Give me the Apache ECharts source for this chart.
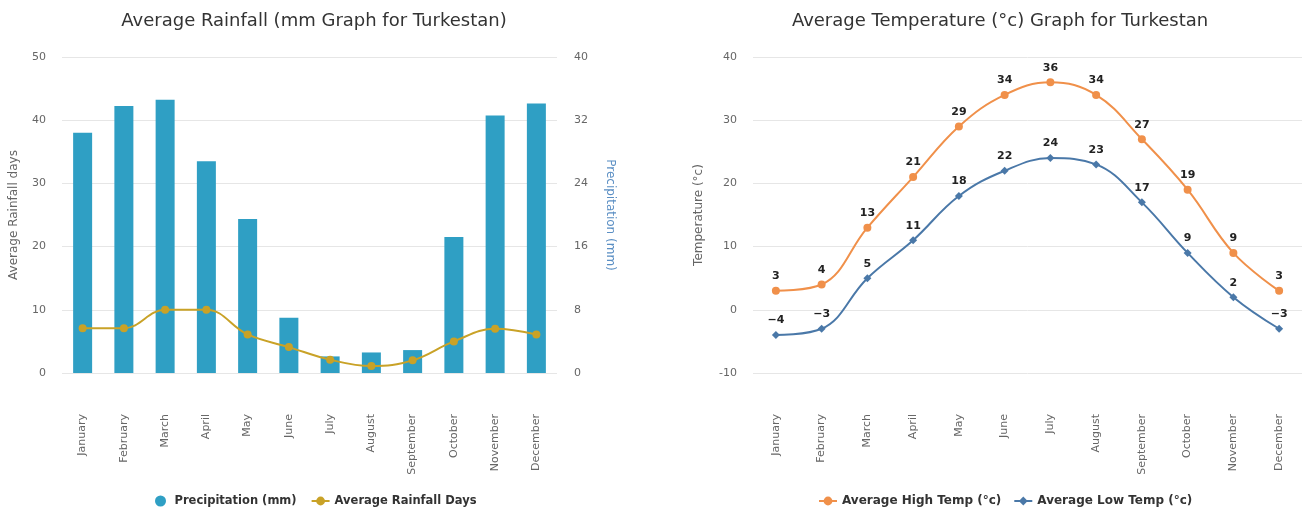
<!DOCTYPE html>
<html><head><meta charset="utf-8">
<script src="https://cdn.jsdelivr.net/npm/echarts@6/dist/echarts.min.js"></script>
<style>html,body{margin:0;padding:0;background:#fff}#c{width:1304px;height:508px}</style>
</head><body><div id="c"></div>
<script>
const months = ["January","February","March","April","May","June","July","August","September","October","November","December"];
const precipitation = [30.4, 33.8, 34.6, 26.8, 19.5, 7.0, 2.1, 2.6, 2.9, 17.2, 32.6, 34.1];
const rainfallDays = [7.1, 7.1, 10, 10, 6.1, 4.1, 2.1, 1.1, 2.0, 5.0, 7.0, 6.1];
const highTemp = [3, 4, 13, 21, 29, 34, 36, 34, 27, 19, 9, 3];
const lowTemp = [-4, -3, 5, 11, 18, 22, 24, 23, 17, 9, 2, -3];

const FONT = "DejaVu Sans";
const c = echarts.init(document.getElementById('c'), null, {renderer:'canvas'});
const axLabel = {color:'#666', fontSize:11, fontFamily:FONT};
const xCommon = {
  type:'category', data:months, boundaryGap:true,
  axisLine:{show:false}, axisTick:{show:false},
  axisLabel:{color:'#666', fontSize:11, fontFamily:FONT, rotate:90, margin:41, interval:0}
};
c.setOption({
  animation:false,
  textStyle:{fontFamily:FONT},
  title:[
    {text:'Average Rainfall (mm Graph for Turkestan)', left:309, top:7, textAlign:'center',
     textStyle:{fontSize:18, fontWeight:'normal', color:'#333', fontFamily:FONT}},
    {text:'Average Temperature (°c) Graph for Turkestan', left:995, top:7, textAlign:'center',
     textStyle:{fontSize:18, fontWeight:'normal', color:'#333', fontFamily:FONT}}
  ],
  legend:[
    {left:150, top:490, itemGap:14, itemWidth:18, itemHeight:11,
     textStyle:{fontSize:11.5, fontWeight:'bold', color:'#333', fontFamily:FONT},
     data:[{name:'Precipitation (mm)', icon:'circle'}, {name:'Average Rainfall Days'}]},
    {left:813, top:490, itemGap:12, itemWidth:18, itemHeight:11,
     textStyle:{fontSize:12, fontWeight:'bold', color:'#333', fontFamily:FONT},
     data:[{name:'Average High Temp (°c)'}, {name:'Average Low Temp (°c)'}]}
  ],
  grid:[
    {left:62, right:747, top:57, bottom:135},
    {left:753, right:2, top:57, bottom:135}
  ],
  xAxis:[
    Object.assign({gridIndex:0}, xCommon),
    Object.assign({gridIndex:1}, xCommon)
  ],
  yAxis:[
    {gridIndex:0, type:'value', min:0, max:50, interval:10,
     name:'Average Rainfall days', nameLocation:'middle', nameGap:42, nameRotate:90,
     nameTextStyle:{color:'#666', fontSize:12, fontFamily:FONT},
     axisLabel:Object.assign({margin:16}, axLabel),
     splitLine:{lineStyle:{color:'#e6e6e6'}}, axisLine:{show:false}, axisTick:{show:false}},
    {gridIndex:0, type:'value', min:0, max:40, interval:8, position:'right',
     name:'Precipitation (mm)', nameLocation:'middle', nameGap:47, nameRotate:-90,
     nameTextStyle:{color:'#5b8fc4', fontSize:12, fontFamily:FONT},
     axisLabel:Object.assign({margin:17}, axLabel),
     splitLine:{show:false}, axisLine:{show:false}, axisTick:{show:false}},
    {gridIndex:1, type:'value', min:-10, max:40, interval:10,
     name:'Temperature (°c)', nameLocation:'middle', nameGap:48, nameRotate:90,
     nameTextStyle:{color:'#666', fontSize:12, fontFamily:FONT},
     axisLabel:Object.assign({margin:16}, axLabel),
     splitLine:{lineStyle:{color:'#e6e6e6'}}, axisLine:{show:false}, axisTick:{show:false}}
  ],
  series:[
    {name:'Precipitation (mm)', type:'bar', xAxisIndex:0, yAxisIndex:1, data:precipitation,
     barWidth:19, itemStyle:{color:'#2f9fc4'}, z:2},
    {name:'Average Rainfall Days', type:'line', xAxisIndex:0, yAxisIndex:0, data:rainfallDays,
     smooth:0.4, symbol:'circle', symbolSize:8,
     lineStyle:{color:'#c9a227', width:2}, itemStyle:{color:'#c9a227'}, z:3},
    {name:'Average High Temp (°c)', type:'line', xAxisIndex:1, yAxisIndex:2, data:highTemp,
     smooth:0.4, symbol:'circle', symbolSize:8,
     lineStyle:{color:'#f0904a', width:2}, itemStyle:{color:'#f0904a'},
     label:{show:true, position:'top', distance:5, color:'#222', fontSize:11, fontWeight:'bold', fontFamily:FONT}},
    {name:'Average Low Temp (°c)', type:'line', xAxisIndex:1, yAxisIndex:2, data:lowTemp,
     smooth:0.4, symbol:'diamond', symbolSize:8,
     lineStyle:{color:'#4a78a8', width:2}, itemStyle:{color:'#4a78a8'},
     label:{show:true, position:'top', distance:5, color:'#222', fontSize:11, fontWeight:'bold', fontFamily:FONT,
            formatter: p => (p.value < 0 ? '\u2212' + Math.abs(p.value) : String(p.value))}}
  ]
});
</script></body></html>
